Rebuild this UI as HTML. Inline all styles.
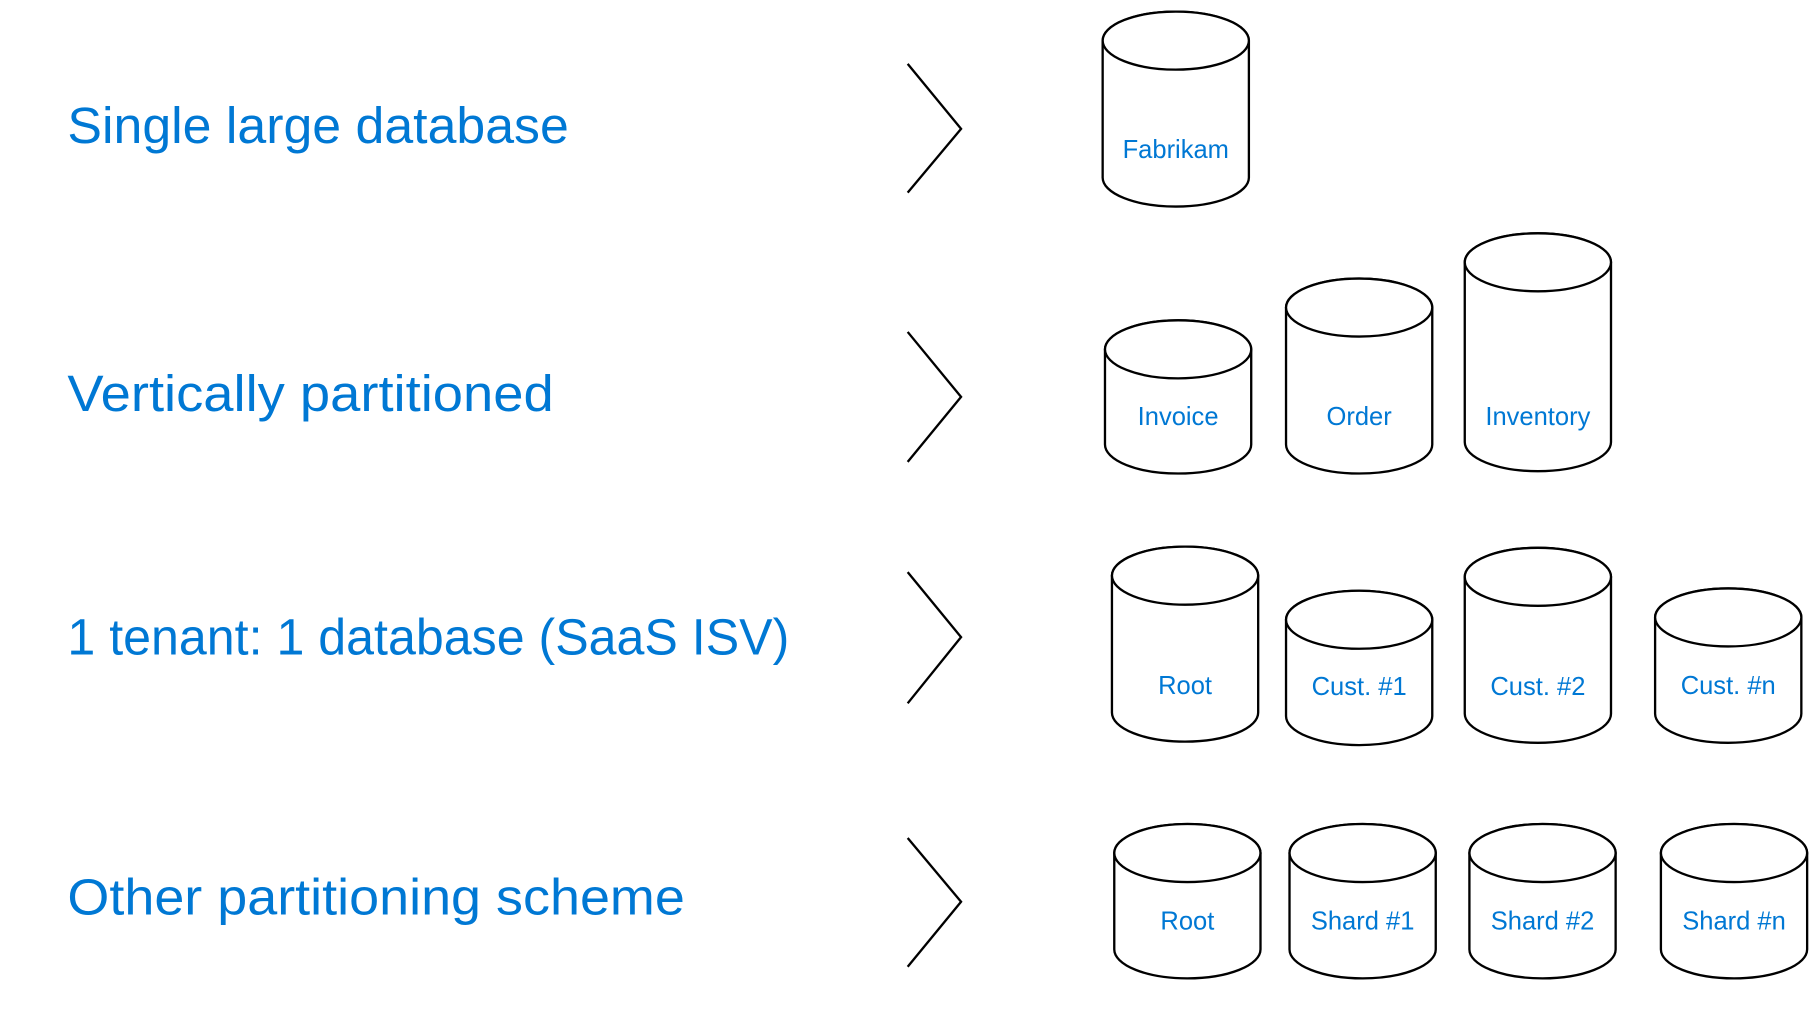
<!DOCTYPE html>
<html><head><meta charset="utf-8"><style>
html,body{margin:0;padding:0;background:#fff;width:1820px;height:1019px;overflow:hidden}
svg{display:block}
.t{font-family:"Liberation Sans",sans-serif;fill:#0078d4}
.big{font-size:44px}
.lb{font-size:22px;text-anchor:middle}
.c{fill:#fff;stroke:#000;stroke-width:2}
.ch{fill:none;stroke:#000;stroke-width:2}
</style></head><body>
<svg width="1820" height="1019" viewBox="0 0 1568 878" xmlns="http://www.w3.org/2000/svg">
<text class="t big" x="58" y="123" textLength="432" lengthAdjust="spacingAndGlyphs">Single large database</text>
<text class="t big" x="58" y="354" textLength="419" lengthAdjust="spacingAndGlyphs">Vertically partitioned</text>
<text class="t big" x="58" y="564" textLength="622" lengthAdjust="spacingAndGlyphs">1 tenant: 1 database (SaaS ISV)</text>
<text class="t big" x="58" y="788" textLength="532" lengthAdjust="spacingAndGlyphs">Other partitioning scheme</text>
<polyline class="ch" points="782,55 828,111 782,166"/>
<polyline class="ch" points="782,286 828,342 782,398"/>
<polyline class="ch" points="782,493 828,549 782,606"/>
<polyline class="ch" points="782,722 828,777 782,833"/>
<g id="cyls"></g>
</svg>
<script>
const cyl=[
[950,1076,10,178,'Fabrikam',128],
[952,1078,276,408,'Invoice',358],
[1108,1234,240,408,'Order',358],
[1262,1388,201,406,'Inventory',358],
[958,1084,471,639,'Root',590],
[1108,1234,509,642,'Cust. #1',591],
[1262,1388,472,640,'Cust. #2',591],
[1426,1552,507,640,'Cust. #n',590],
[960,1086,710,843,'Root',793],
[1111,1237,710,843,'Shard #1',793],
[1266,1392,710,843,'Shard #2',793],
[1431,1557,710,843,'Shard #n',793]];
let s='';
for(const [x1,x2,t,b,l,ly] of cyl){
const rx=(x2-x1)/2,ry=25,cx=(x1+x2)/2;
s+=`<path class="c" d="M${x1},${t+ry} L${x1},${b-ry} A${rx},${ry} 0 0 0 ${x2},${b-ry} L${x2},${t+ry} A${rx},${ry} 0 0 0 ${x1},${t+ry} Z"/>`;
s+=`<ellipse class="c" cx="${cx}" cy="${t+ry}" rx="${rx}" ry="${ry}"/>`;
s+=`<text class="t lb" x="${cx}" y="${ly+8}">${l}</text>`;
}
document.getElementById('cyls').innerHTML=s;
</script>
</body></html>
